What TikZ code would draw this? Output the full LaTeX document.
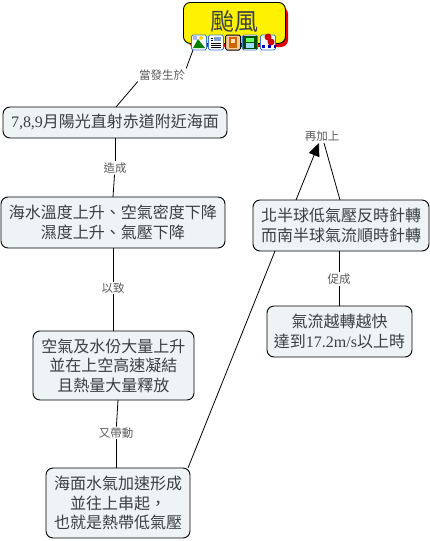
\documentclass[tikz,border=0pt]{standalone}
\usepackage{fontspec}
\setmainfont{Noto Sans CJK TC}[BoldFont={Noto Sans CJK TC}]
\newfontfamily\latinf{Liberation Serif}
\usetikzlibrary{arrows.meta,calc}
\definecolor{boxfill}{HTML}{EEF3F6}
\definecolor{boxtxt}{HTML}{3A3F42}
\definecolor{lbltxt}{HTML}{5A5A5A}
\definecolor{iconblue}{HTML}{3C78C8}
\tikzset{
 x=1pt,y=-1pt,
 concept/.style={draw=black,line width=0.9pt,rounded corners=7pt,fill=boxfill,align=center,
   text=boxtxt,font=\fontsize{16}{19.5}\selectfont,inner sep=0pt},
 lnk/.style={line width=0.8pt,black},
 lbl/.style={font=\fontsize{11.5}{13}\selectfont,text=lbltxt,fill=white,inner sep=1pt},
 icon/.style={draw=iconblue,line width=0.8pt,rounded corners=1.5pt,fill=white,minimum size=15pt,inner sep=0pt},
}
\newcommand{\cbox}[6]{\node[concept,minimum width=#3 pt-#1 pt,minimum height=#4 pt-#2 pt] (#5) at ({(#1+#3)/2},{(#2+#4)/2}) {#6};}
\begin{document}
\begin{tikzpicture}
\useasboundingbox (0,0) rectangle (430,541);
% title shadow and box
\fill[red!90!black,rounded corners=7pt] (188,7) rectangle (288,47);
\node[draw=black,line width=0.9pt,rounded corners=7pt,fill=yellow,inner sep=0pt,
  minimum width=102pt,minimum height=41pt,anchor=north west,text=boxtxt] (title) at (183,2)
  {\raisebox{4pt}{\fontsize{24}{26}\selectfont 颱風}};
% boxes
\cbox{3}{107}{227}{138}{b1}{{\latinf 7,8,9}月陽光直射赤道附近海面}
\cbox{1}{197}{225}{248}{b2}{海水溫度上升、空氣密度下降\\濕度上升、氣壓下降}
\cbox{33}{331}{194}{400}{b3}{空氣及水份大量上升\\並在上空高速凝結\\且熱量大量釋放}
\cbox{46}{468}{190}{538}{b4}{海面水氣加速形成\\並往上串起，\\也就是熱帶低氣壓}
\cbox{253}{200}{429}{251}{b5}{北半球低氣壓反時針轉\\而南半球氣流順時針轉}
\cbox{267}{306}{412}{357}{b6}{氣流越轉越快\\達到{\latinf 17.2m/s}以上時}
% labels
\node[lbl] (l1) at (162,75) {當發生於};
\node[lbl] (l2) at (115,168) {造成};
\node[lbl] (l3) at (113,288) {以致};
\node[lbl] (l4) at (116,433) {又帶動};
\node[lbl] (l5) at (339,279) {促成};
\node[lbl] (l6) at (322,136) {再加上};
% anchor coordinates
\coordinate (t1) at (193,50);
\coordinate (a1) at (116,107);
\coordinate (a2) at (115,138);
\coordinate (a3) at (113,197);
\coordinate (a4) at (113,248);
\coordinate (a5) at (113,331);
\coordinate (a6) at (118,400);
\coordinate (a7) at (116,468);
\coordinate (a8) at (188,468);
\coordinate (a9) at (275,251);
\coordinate (a10) at (296,200);
\coordinate (a11) at (340,200);
\coordinate (a12) at (339,251);
\coordinate (a13) at (339,306);
\coordinate (tip) at (319,143);
\coordinate (top6) at (324,143);
% connectors
\draw[lnk] (t1) -- (l1.north east);
\draw[lnk] (l1.south west) -- (a1);
\draw[lnk] (a2) -- (l2);
\draw[lnk] (l2) -- (a3);
\draw[lnk] (a4) -- (l3);
\draw[lnk] (l3) -- (a5);
\draw[lnk] (a6) -- (l4);
\draw[lnk] (l4) -- (a7);
\draw[lnk] (a8) -- (a9);
\draw[lnk,-{Triangle[length=13pt,width=11pt]}] (a10) -- (tip);
\draw[lnk] (a11) -- (top6);
\draw[lnk] (a12) -- (l5);
\draw[lnk] (l5) -- (a13);
\node[lbl] at (l1) {當發生於};
\node[lbl] at (l2) {造成};
\node[lbl] at (l3) {以致};
\node[lbl] at (l4) {又帶動};
\node[lbl] at (l5) {促成};
\node[lbl] at (l6) {再加上};
% icons
\node[icon] (i1) at (199,42.5) {};
\fill[green!50!black] (193,48) -- (198,39) -- (205,48) -- cycle;
\fill[yellow!80!orange] (201,38) circle (2);
\fill[blue!30] (193,36) rectangle (197,40);
\node[icon] (i2) at (216,42.5) {};
\fill[iconblue!70] (214,37) rectangle (221,41);
\foreach \yy in {43,45,47} \draw[black,line width=0.6pt] (211,\yy) -- (221,\yy);
\draw[black,line width=0.6pt] (211,38) -- (213,38);
\draw[black,line width=0.6pt] (211,40) -- (213,40);
\node[icon,draw=black,line width=1pt,fill=orange!40] (i3) at (233,42.5) {};
\fill[orange!80!black] (229,37) rectangle (237,48);
\fill[orange!25] (231,39) rectangle (235,43);
\node[icon] (i4) at (250,42.5) {};
\fill[green!30!black] (243,36) rectangle (257,49);
\fill[green!60!white] (246,37.5) rectangle (254,42);
\fill[cyan!40!white] (246,43) rectangle (254,47.5);
\node[icon] (i5) at (268,42.5) {};
\fill[red!80!black] (268,37) circle (3.5);
\fill[red!80!black] (271,42) circle (3.5);
\fill[blue!70!black] (262,45) rectangle (265,48);
\fill[blue!70!black] (268,45) rectangle (271,48);
\fill[blue!70!black] (274,45) rectangle (276,48);
\end{tikzpicture}
\end{document}
